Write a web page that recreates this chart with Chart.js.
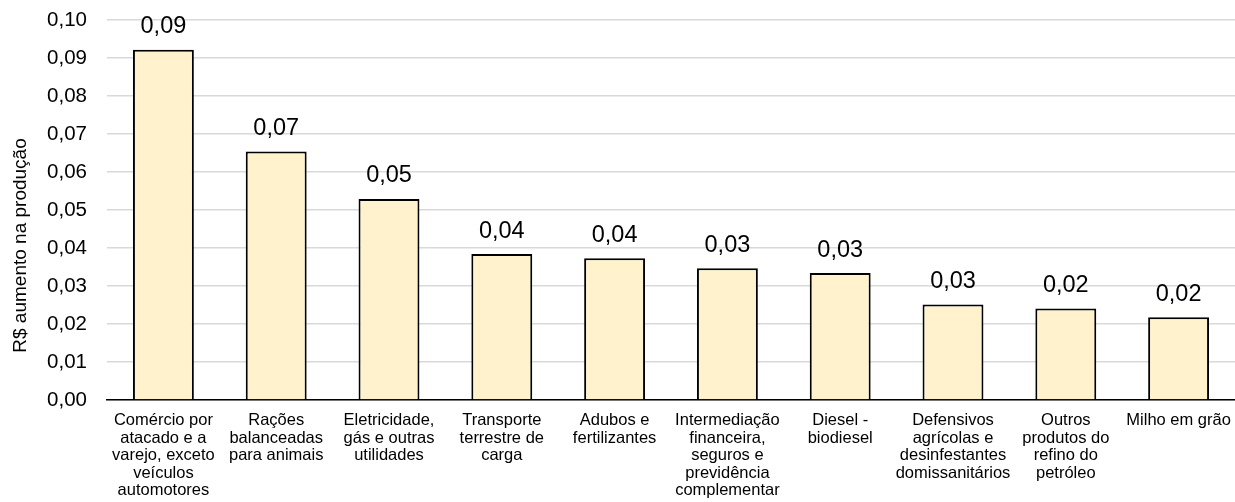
<!DOCTYPE html>
<html lang="pt-BR">
<head>
<meta charset="utf-8">
<title>R$ aumento na produção</title>
<script src="https://cdn.jsdelivr.net/npm/chart.js@4/dist/chart.umd.min.js"></script>
<style>
  html, body { margin: 0; padding: 0; background: #fff; }
  #wrap { width: 1235px; height: 502px; position: relative; }
</style>
</head>
<body>
<div id="wrap"><canvas id="chart"></canvas></div>
<script>
// Setores (rótulos do eixo X, quebrados em linhas)
const categories = [
  ["Comércio por", "atacado e a", "varejo, exceto", "veículos", "automotores"],
  ["Rações", "balanceadas", "para animais"],
  ["Eletricidade,", "gás e outras", "utilidades"],
  ["Transporte", "terrestre de", "carga"],
  ["Adubos e", "fertilizantes"],
  ["Intermediação", "financeira,", "seguros e", "previdência", "complementar"],
  ["Diesel -", "biodiesel"],
  ["Defensivos", "agrícolas e", "desinfestantes", "domissanitários"],
  ["Outros", "produtos do", "refino do", "petróleo"],
  ["Milho em grão"]
];

// R$ de aumento na produção por setor
const values = [0.0922, 0.0654, 0.0529, 0.0384, 0.0373, 0.0347, 0.0334, 0.0251, 0.0241, 0.0218];

// Marcas do eixo Y
const yTicks = [0, 0.01, 0.02, 0.03, 0.04, 0.05, 0.06, 0.07, 0.08, 0.09, 0.10];

const yTitle = "R$ aumento na produção";
const FONT = "'Liberation Sans', Arial, sans-serif";

const fmt = v => v.toFixed(2).replace('.', ',');

// Valores escritos acima de cada barra
const valueLabels = {
  id: 'valueLabels',
  afterDatasetsDraw(chart) {
    const ctx = chart.ctx;
    const meta = chart.getDatasetMeta(0);
    ctx.save();
    ctx.font = "23.5px " + FONT;
    ctx.fillStyle = '#000';
    ctx.textAlign = 'center';
    ctx.textBaseline = 'alphabetic';
    meta.data.forEach((bar, i) => {
      ctx.fillText(fmt(values[i]), bar.x, bar.y - 16.5);
    });
    ctx.restore();
  }
};

// Título do eixo Y, girado
const axisTitle = {
  id: 'axisTitle',
  afterDraw(chart) {
    const ctx = chart.ctx;
    ctx.save();
    ctx.translate(25.5, 245.5);
    ctx.rotate(-Math.PI / 2);
    ctx.font = "19px " + FONT;
    ctx.fillStyle = '#000';
    ctx.textAlign = 'center';
    ctx.textBaseline = 'alphabetic';
    ctx.fillText(yTitle, 0, 0);
    ctx.restore();
  }
};

new Chart(document.getElementById('chart'), {
  type: 'bar',
  data: {
    labels: categories,
    datasets: [{
      data: values,
      backgroundColor: '#FFF2CC',
      borderColor: '#000',
      borderWidth: 2,
      borderSkipped: 'bottom',
      categoryPercentage: 1,
      barPercentage: 0.54
    }]
  },
  options: {
    responsive: true,
    maintainAspectRatio: false,
    animation: false,
    events: [],
    layout: { padding: { top: 20, right: 0, bottom: 0, left: 0 } },
    plugins: {
      legend: { display: false },
      tooltip: { enabled: false },
      title: { display: false }
    },
    scales: {
      x: {
        grid: { display: false, drawTicks: false },
        border: { display: true, color: '#000', width: 1.5 },
        ticks: {
          color: '#000',
          font: { family: FONT, size: 16.5, lineHeight: 1.06 },
          padding: 12,
          maxRotation: 0,
          minRotation: 0,
          autoSkip: false
        },
        afterFit(scale) {
          scale.height = 102;
          scale.paddingLeft = 0;
          scale.paddingRight = 0;
        }
      },
      y: {
        min: 0,
        max: 0.10,
        afterBuildTicks(scale) { scale.ticks = yTicks.map(v => ({ value: v })); },
        grid: { color: '#D9D9D9', lineWidth: 1.5, drawTicks: false },
        border: { display: false },
        ticks: {
          color: '#000',
          font: { family: FONT, size: 20.5 },
          padding: 20,
          callback: v => fmt(v)
        },
        title: { display: false },
        afterFit(scale) {
          scale.width = 107;
          scale.paddingTop = 0;
          scale.paddingBottom = 0;
        }
      }
    }
  },
  plugins: [valueLabels, axisTitle]
});
</script>
</body>
</html>
